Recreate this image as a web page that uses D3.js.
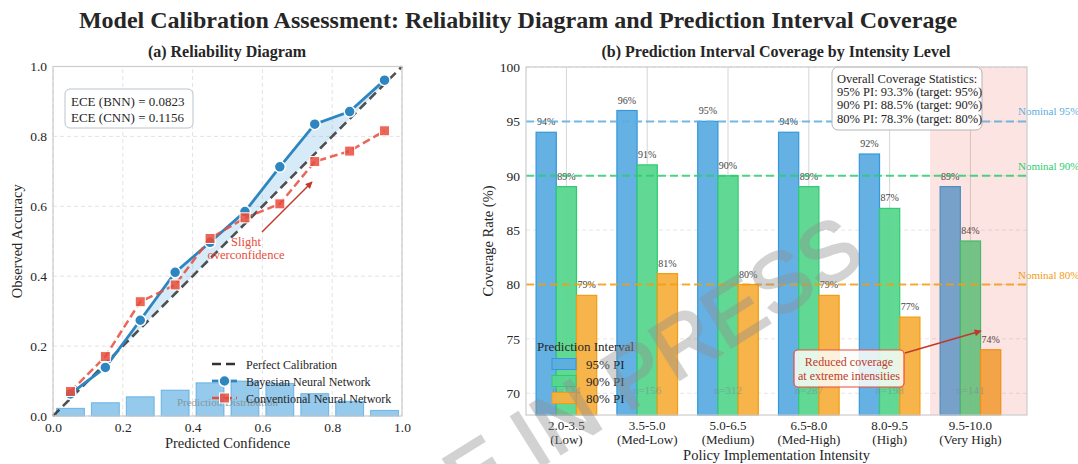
<!DOCTYPE html>
<html>
<head>
<meta charset="utf-8">
<script src="https://cdn.jsdelivr.net/npm/d3@7"></script>
<style>
  body { margin: 0; background: white; }
  text { font-family: "Liberation Serif", "Times New Roman", serif; fill: #262626; }
</style>
</head>
<body>
<div id="svg_chart"></div>
<script>
// ---- data ----
var binCenters = [0.05, 0.15, 0.25, 0.35, 0.45, 0.55, 0.65, 0.75, 0.85, 0.95];
var bnnAcc = [0.063, 0.139, 0.274, 0.411, 0.497, 0.585, 0.713, 0.835, 0.871, 0.961];
var cnnAcc = [0.070, 0.170, 0.327, 0.375, 0.508, 0.567, 0.607, 0.728, 0.758, 0.816];
var histHeights = [0.022, 0.038, 0.055, 0.074, 0.095, 0.100, 0.093, 0.064, 0.042, 0.016];
var ticksLeft = [0, 0.2, 0.4, 0.6, 0.8, 1.0];

var intensityLevels = ["2.0-3.5", "3.5-5.0", "5.0-6.5", "6.5-8.0", "8.0-9.5", "9.5-10.0"];
var intensityNames = ["(Low)", "(Med-Low)", "(Medium)", "(Med-High)", "(High)", "(Very High)"];
var cov95 = [94, 96, 95, 94, 92, 89];
var cov90 = [89, 91, 90, 89, 87, 84];
var cov80 = [79, 81, 80, 79, 77, 74];
var sampleSizes = [124, 156, 312, 287, 198, 141];
var nominalLevels = [95, 90, 80];
var ticksRight = [70, 75, 80, 85, 90, 95, 100];
var statsLines = ["Overall Coverage Statistics:", "95% PI: 93.3% (target: 95%)",
                  "90% PI: 88.5% (target: 90%)", "80% PI: 78.3% (target: 80%)"];

var W = 1078, H = 464;

var svg = d3.select("#svg_chart").append("svg")
  .attr("width", W)
  .attr("height", H);

svg.append("defs").selectAll("marker")
  .data([["arrL", "#C0392B"], ["arrR", "#C0392B"]])
  .join("marker")
    .attr("id", d => d[0])
    .attr("viewBox", "0 0 10 10")
    .attr("refX", 9).attr("refY", 5)
    .attr("markerWidth", 9).attr("markerHeight", 7)
    .attr("markerUnits", "userSpaceOnUse")
    .attr("orient", "auto")
  .append("path")
    .attr("d", "M0,0 L10,5 L0,10 z")
    .attr("fill", d => d[1]);

// main title
svg.append("text")
  .attr("x", 518).attr("y", 28)
  .attr("text-anchor", "middle")
  .style("font-size", "24px").style("font-weight", "bold")
  .text("Model Calibration Assessment: Reliability Diagram and Prediction Interval Coverage");

// ================= (a) Reliability diagram =================
var xL = d3.scaleLinear().domain([0, 1]).range([53, 402]);
var yL = d3.scaleLinear().domain([0, 1]).range([416, 66.5]);
var gL = svg.append("g");

// grid
gL.append("g").selectAll("line.gx").data(ticksLeft).join("line")
  .attr("x1", d => xL(d)).attr("x2", d => xL(d))
  .attr("y1", yL(0)).attr("y2", yL(1))
  .attr("stroke", "#e3e3e3").attr("stroke-dasharray", "4,3");
gL.append("g").selectAll("line.gy").data(ticksLeft).join("line")
  .attr("y1", d => yL(d)).attr("y2", d => yL(d))
  .attr("x1", xL(0)).attr("x2", xL(1))
  .attr("stroke", "#e3e3e3").attr("stroke-dasharray", "4,3");

// histogram of predictions
gL.append("g").selectAll("rect").data(histHeights).join("rect")
  .attr("x", (d, i) => xL(binCenters[i] - 0.04))
  .attr("width", xL(0.08) - xL(0))
  .attr("y", d => yL(d))
  .attr("height", d => yL(0) - yL(d))
  .attr("fill", "#5DADE2").attr("fill-opacity", 0.65)
  .attr("stroke", "#3498DB").attr("stroke-opacity", 0.6).attr("stroke-width", 1);

gL.append("text")
  .attr("x", xL(0.5)).attr("y", yL(0.029))
  .attr("text-anchor", "middle")
  .style("font-size", "11px").style("fill", "#7f8c8d").style("opacity", 0.8)
  .text("Prediction Distribution");

// shaded gap between BNN and diagonal
var gap = d3.area()
  .x(d => xL(d))
  .y0(d => yL(d))
  .y1((d, i) => yL(bnnAcc[i]));
gL.append("path").datum(binCenters)
  .attr("d", gap)
  .attr("fill", "#5DADE2").attr("fill-opacity", 0.25);

// perfect calibration
gL.append("line")
  .attr("x1", xL(0)).attr("y1", yL(0)).attr("x2", xL(1)).attr("y2", yL(1))
  .attr("stroke", "#333").attr("stroke-opacity", 0.85)
  .attr("stroke-width", 2.6).attr("stroke-dasharray", "9,5");

var lineL = d3.line().x(d => xL(d[0])).y(d => yL(d[1]));

// BNN
gL.append("path").datum(d3.zip(binCenters, bnnAcc))
  .attr("d", lineL).attr("fill", "none")
  .attr("stroke", "#2E86C1").attr("stroke-width", 2.8);
gL.append("g").selectAll("circle").data(d3.zip(binCenters, bnnAcc)).join("circle")
  .attr("cx", d => xL(d[0])).attr("cy", d => yL(d[1]))
  .attr("r", 5.5)
  .attr("fill", "#2E86C1").attr("stroke", "white").attr("stroke-width", 1.5);

// CNN (drawn on top)
gL.append("path").datum(d3.zip(binCenters, cnnAcc))
  .attr("d", lineL).attr("fill", "none")
  .attr("stroke", "#E74C3C").attr("stroke-opacity", 0.85)
  .attr("stroke-width", 2.5).attr("stroke-dasharray", "8,4");
gL.append("g").selectAll("rect").data(d3.zip(binCenters, cnnAcc)).join("rect")
  .attr("x", d => xL(d[0]) - 5).attr("y", d => yL(d[1]) - 5)
  .attr("width", 10).attr("height", 10)
  .attr("fill", "#E74C3C").attr("fill-opacity", 0.85)
  .attr("stroke", "white").attr("stroke-width", 1);

// overconfidence annotation
gL.append("line")
  .attr("x1", 262).attr("y1", 232).attr("x2", 312).attr("y2", 182)
  .attr("stroke", "#C0392B").attr("stroke-width", 1.5)
  .attr("marker-end", "url(#arrL)");
gL.append("text").attr("x", 246).attr("y", 246)
  .attr("text-anchor", "middle").style("font-size", "12.5px").style("fill", "#E74C3C")
  .text("Slight");
gL.append("text").attr("x", 246).attr("y", 259)
  .attr("text-anchor", "middle").style("font-size", "12.5px").style("fill", "#E74C3C")
  .text("overconfidence");

// ECE box
gL.append("rect")
  .attr("x", 65).attr("y", 89).attr("width", 128).attr("height", 39).attr("rx", 5)
  .attr("fill", "white").attr("fill-opacity", 0.9)
  .attr("stroke", "#b8c4cc").attr("stroke-width", 1);
gL.append("text").attr("x", 71).attr("y", 106).style("font-size", "13px").text("ECE (BNN) = 0.0823");
gL.append("text").attr("x", 71).attr("y", 122).style("font-size", "13px").text("ECE (CNN) = 0.1156");

// legend
var legL = gL.append("g");
var legRows = [364, 381, 398];
legL.append("line").attr("x1", 212).attr("x2", 237).attr("y1", legRows[0]).attr("y2", legRows[0])
  .attr("stroke", "#333").attr("stroke-width", 2.6).attr("stroke-dasharray", "9,5");
legL.append("line").attr("x1", 212).attr("x2", 237).attr("y1", legRows[1]).attr("y2", legRows[1])
  .attr("stroke", "#2E86C1").attr("stroke-width", 2.8);
legL.append("circle").attr("cx", 224.5).attr("cy", legRows[1]).attr("r", 5.5)
  .attr("fill", "#2E86C1").attr("stroke", "white").attr("stroke-width", 1.5);
legL.append("line").attr("x1", 212).attr("x2", 237).attr("y1", legRows[2]).attr("y2", legRows[2])
  .attr("stroke", "#E74C3C").attr("stroke-width", 2.5).attr("stroke-dasharray", "8,4");
legL.append("rect").attr("x", 219.5).attr("y", legRows[2] - 5).attr("width", 10).attr("height", 10)
  .attr("fill", "#E74C3C").attr("fill-opacity", 0.85).attr("stroke", "white");
legL.selectAll("text").data(["Perfect Calibration", "Bayesian Neural Network", "Conventional Neural Network"])
  .join("text")
    .attr("x", 246).attr("y", (d, i) => legRows[i] + 4.5)
    .style("font-size", "12px").text(d => d);

// frame and axes
gL.append("rect")
  .attr("x", xL(0)).attr("y", yL(1))
  .attr("width", xL(1) - xL(0)).attr("height", yL(0) - yL(1))
  .attr("fill", "none").attr("stroke", "#cccccc").attr("stroke-width", 1.2);

var axXL = gL.append("g").attr("transform", "translate(0," + yL(0) + ")")
  .call(d3.axisBottom(xL).tickValues(ticksLeft).tickFormat(d3.format(".1f")).tickSize(0).tickPadding(6));
var axYL = gL.append("g").attr("transform", "translate(" + xL(0) + ",0)")
  .call(d3.axisLeft(yL).tickValues(ticksLeft).tickFormat(d3.format(".1f")).tickSize(0).tickPadding(6));
[axXL, axYL].forEach(function (a) {
  a.select(".domain").remove();
  a.selectAll("text").style("font-size", "13.5px").style("font-family", "Liberation Serif").attr("fill", "#262626");
});

gL.append("text").attr("x", xL(0.5)).attr("y", 448)
  .attr("text-anchor", "middle").style("font-size", "14.5px").text("Predicted Confidence");
gL.append("text").attr("transform", "translate(22," + yL(0.5) + ") rotate(-90)")
  .attr("text-anchor", "middle").style("font-size", "14.5px").text("Observed Accuracy");
gL.append("text").attr("x", 227).attr("y", 57)
  .attr("text-anchor", "middle").style("font-size", "16px").style("font-weight", "bold")
  .text("(a) Reliability Diagram");

// ================= (b) Coverage by intensity =================
var xR = d3.scaleLinear().domain([-0.5, 5.7]).range([526, 1027]);
var yR = d3.scaleLinear().domain([68, 100]).range([415, 67]);
var gR = svg.append("g");
var bw = 0.25;

// grid
gR.append("g").selectAll("line").data(ticksRight).join("line")
  .attr("x1", xR.range()[0]).attr("x2", xR.range()[1])
  .attr("y1", d => yR(d)).attr("y2", d => yR(d))
  .attr("stroke", "#e6e6e6").attr("stroke-dasharray", "4,3");
gR.append("g").selectAll("line").data(intensityLevels).join("line")
  .attr("x1", (d, i) => xR(i)).attr("x2", (d, i) => xR(i))
  .attr("y1", yR.range()[0]).attr("y2", yR.range()[1])
  .attr("stroke", "#d6d6d6").attr("stroke-width", 1);

var series = [
  { name: "95% PI", vals: cov95, fill: "#5DADE2", edge: "#3498DB", off: -bw },
  { name: "90% PI", vals: cov90, fill: "#58D68D", edge: "#2ECC71", off: 0 },
  { name: "80% PI", vals: cov80, fill: "#F5B041", edge: "#F39C12", off: bw }
];

series.forEach(function (s) {
  gR.append("g").selectAll("rect").data(s.vals).join("rect")
    .attr("x", (d, i) => xR(i + s.off - bw / 2))
    .attr("width", xR(bw) - xR(0))
    .attr("y", d => yR(d))
    .attr("height", d => yR(68) - yR(d))
    .attr("fill", s.fill).attr("fill-opacity", 0.95)
    .attr("stroke", s.edge).attr("stroke-width", 1.2);
  gR.append("g").selectAll("text").data(s.vals).join("text")
    .attr("x", (d, i) => xR(i + s.off))
    .attr("y", d => yR(d + 0.5) - 1.5)
    .attr("text-anchor", "middle")
    .style("font-size", "10px").style("fill", "#444")
    .text(d => d + "%");
});

// highlighted extreme intensity region (drawn over the bars)
gR.append("rect")
  .attr("x", xR(4.5)).attr("width", xR(5.7) - xR(4.5))
  .attr("y", yR(100)).attr("height", yR(68) - yR(100))
  .attr("fill", "#E74C3C").attr("fill-opacity", 0.15);

// nominal lines
var nomColors = ["#5DADE2", "#2ECC71", "#F39C12"];
gR.append("g").selectAll("line").data(nominalLevels).join("line")
  .attr("x1", xR.range()[0]).attr("x2", xR.range()[1])
  .attr("y1", d => yR(d)).attr("y2", d => yR(d))
  .attr("stroke", (d, i) => nomColors[i]).attr("stroke-opacity", 0.85)
  .attr("stroke-width", 2).attr("stroke-dasharray", "8,4");
gR.append("g").selectAll("text").data(nominalLevels).join("text")
  .attr("x", 1018).attr("y", d => yR(d) - 6)
  .style("font-size", "11px").style("fill", (d, i) => nomColors[i])
  .text(d => "Nominal " + d + "%");

// sample sizes
gR.append("g").selectAll("text").data(sampleSizes).join("text")
  .attr("x", (d, i) => xR(i)).attr("y", yR(70.3) + 4)
  .attr("text-anchor", "middle")
  .style("font-size", "11px").style("fill", "#7f8c8d").style("opacity", 0.6)
  .text(d => "n=" + d);

// legend
var legR = gR.append("g");
legR.append("text").attr("x", 537).attr("y", 351).style("font-size", "13px").text("Prediction Interval");
var legRowsR = [364, 381, 398];
series.forEach(function (s, i) {
  legR.append("rect").attr("x", 552).attr("y", legRowsR[i] - 5.5).attr("width", 24).attr("height", 11)
    .attr("fill", s.fill).attr("fill-opacity", 0.95).attr("stroke", s.edge);
  legR.append("text").attr("x", 586).attr("y", legRowsR[i] + 4.5).style("font-size", "13px").text(s.name);
});

// stats box
gR.append("rect")
  .attr("x", 832).attr("y", 67).attr("width", 150).attr("height", 63).attr("rx", 6)
  .attr("fill", "white").attr("fill-opacity", 0.92)
  .attr("stroke", "#b5b5b5").attr("stroke-width", 1);
gR.append("g").selectAll("text").data(statsLines).join("text")
  .attr("x", 837).attr("y", (d, i) => 83 + i * 13.2)
  .style("font-size", "12.5px").text(d => d);

// reduced coverage annotation
gR.append("line")
  .attr("x1", 905).attr("y1", 353).attr("x2", 981).attr("y2", 331)
  .attr("stroke", "#C0392B").attr("stroke-width", 1.6)
  .attr("marker-end", "url(#arrR)");
gR.append("rect")
  .attr("x", 794).attr("y", 350).attr("width", 110).attr("height", 37).attr("rx", 4)
  .attr("fill", "#fbfdf7").attr("fill-opacity", 0.85)
  .attr("stroke", "#E74C3C").attr("stroke-width", 1.2);
gR.append("text").attr("x", 849).attr("y", 366).attr("text-anchor", "middle")
  .style("font-size", "12px").style("fill", "#C0392B").text("Reduced coverage");
gR.append("text").attr("x", 849).attr("y", 380).attr("text-anchor", "middle")
  .style("font-size", "12px").style("fill", "#C0392B").text("at extreme intensities");

// frame and axes
gR.append("rect")
  .attr("x", xR.range()[0]).attr("y", yR(100))
  .attr("width", xR.range()[1] - xR.range()[0]).attr("height", yR(68) - yR(100))
  .attr("fill", "none").attr("stroke", "#cccccc").attr("stroke-width", 1.2);

var axYR = gR.append("g").attr("transform", "translate(" + xR.range()[0] + ",0)")
  .call(d3.axisLeft(yR).tickValues(ticksRight).tickSize(0).tickPadding(6));
axYR.select(".domain").remove();
axYR.selectAll("text").style("font-size", "13.5px").style("font-family", "Liberation Serif").attr("fill", "#262626");

var xTicks = gR.append("g").selectAll("g").data(intensityLevels).join("g")
  .attr("transform", (d, i) => "translate(" + xR(i) + ",0)");
xTicks.append("text").attr("y", 430).attr("text-anchor", "middle").style("font-size", "13px").text(d => d);
xTicks.append("text").attr("y", 444).attr("text-anchor", "middle").style("font-size", "13px")
  .text((d, i) => intensityNames[i]);

gR.append("text").attr("x", xR(2.6)).attr("y", 460)
  .attr("text-anchor", "middle").style("font-size", "14.5px").text("Policy Implementation Intensity");
gR.append("text").attr("transform", "translate(493," + yR(84) + ") rotate(-90)")
  .attr("text-anchor", "middle").style("font-size", "14.5px").text("Coverage Rate (%)");
gR.append("text").attr("x", 776).attr("y", 57)
  .attr("text-anchor", "middle").style("font-size", "16px").style("font-weight", "bold")
  .text("(b) Prediction Interval Coverage by Intensity Level");

// watermark
svg.append("text")
  .attr("transform", "translate(868,262) rotate(-32)")
  .attr("text-anchor", "end")
  .style("font-family", "Liberation Sans, Arial, sans-serif")
  .style("font-size", "84px")
  .style("fill", "#909090").style("stroke", "#909090").style("stroke-width", "2.5px")
  .style("opacity", 0.4)
  .text("ARTICLE IN PRESS");
</script>
</body>
</html>
